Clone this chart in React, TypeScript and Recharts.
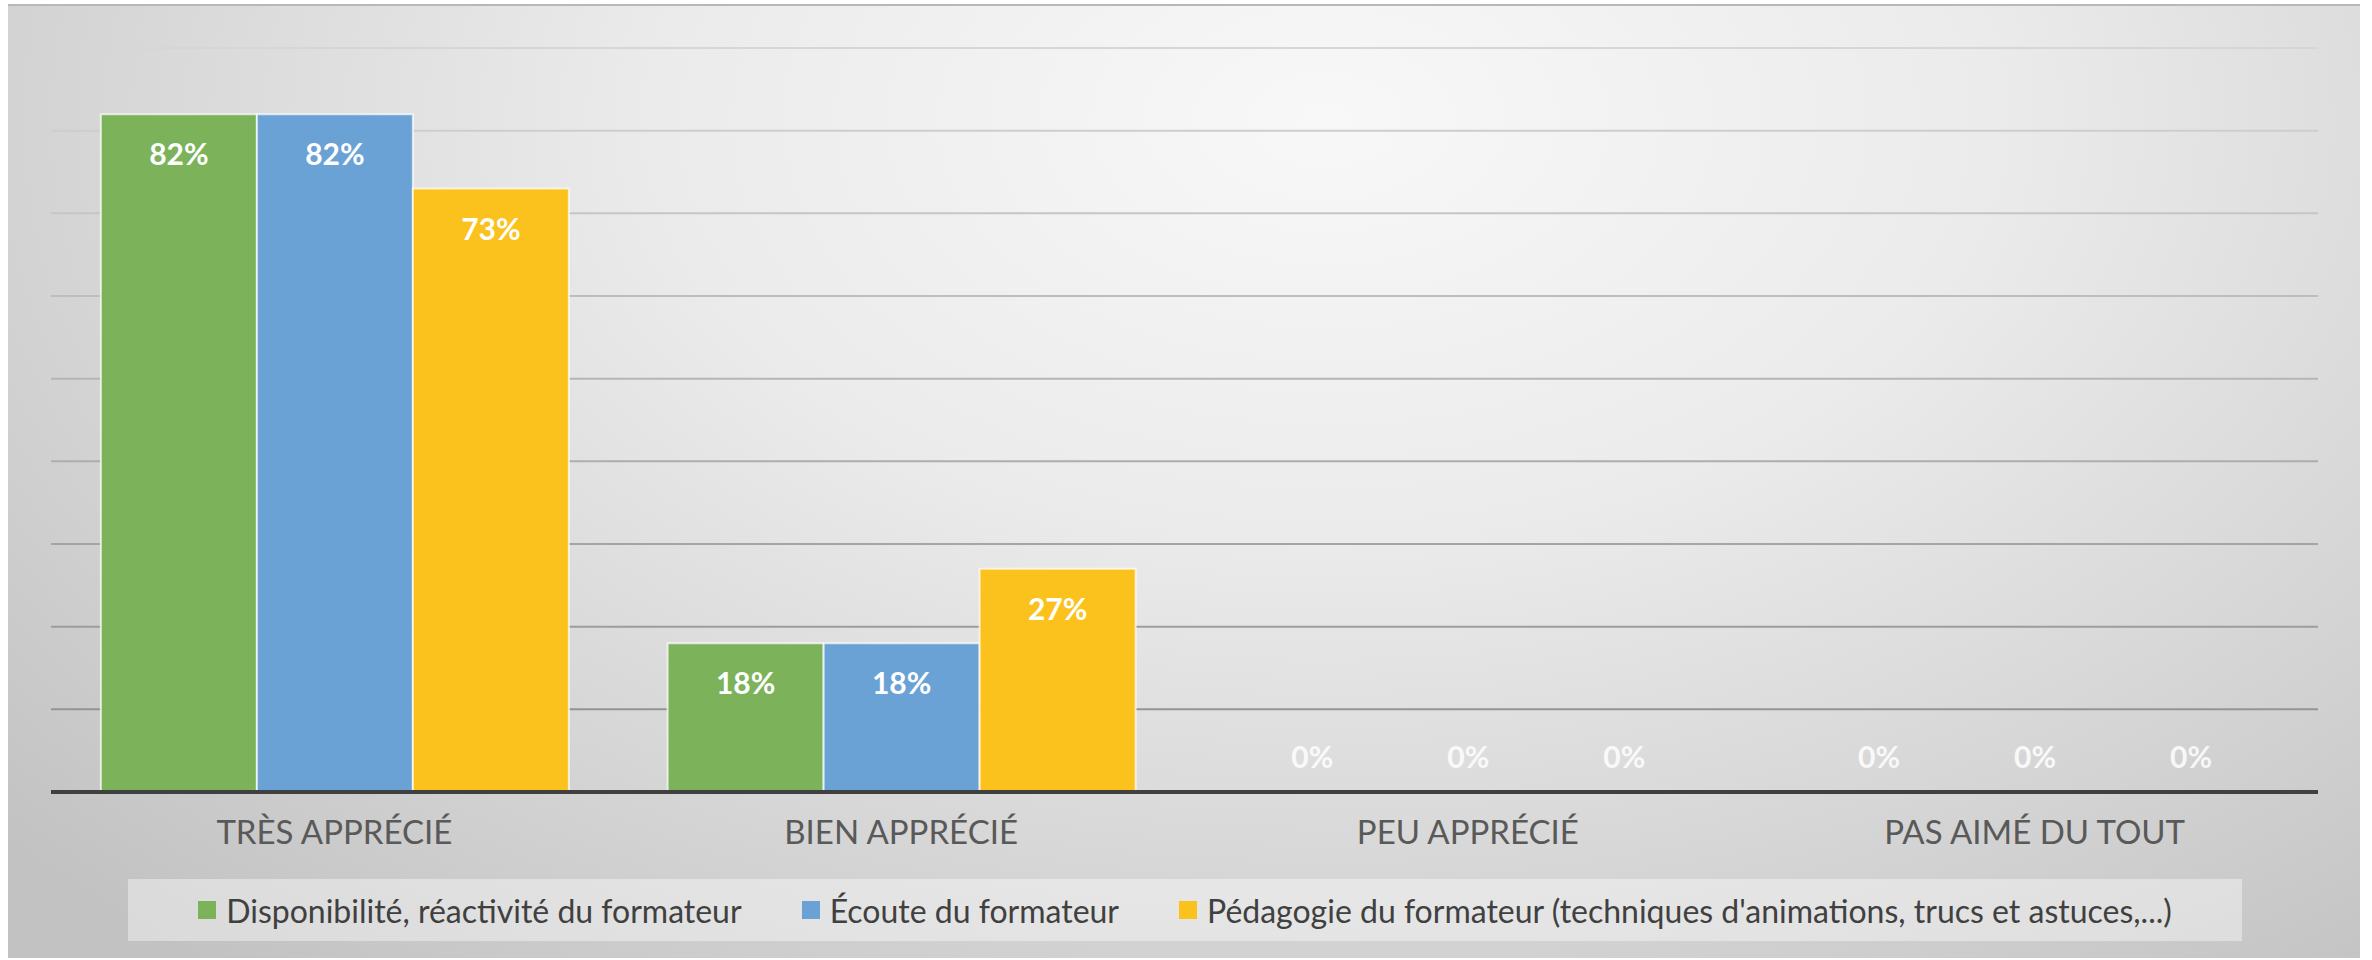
import { BarChart, Bar, XAxis, YAxis, CartesianGrid, Legend, LabelList } from "recharts";

const categories = ["TRÈS APPRÉCIÉ", "BIEN APPRÉCIÉ", "PEU APPRÉCIÉ", "PAS AIMÉ DU TOUT"];
const disponibilite = [82, 18, 0, 0];
const ecoute = [82, 18, 0, 0];
const pedagogie = [73, 27, 0, 0];
const yTicks = [0, 10, 20, 30, 40, 50, 60, 70, 80, 90];

const SERIES = [
  { key: "disponibilite", name: "Disponibilité, réactivité du formateur", color: "#7CB25A" },
  { key: "ecoute", name: "Écoute du formateur", color: "#6BA2D6" },
  { key: "pedagogie", name: "Pédagogie du formateur (techniques d'animations, trucs et astuces,...)", color: "#FBC21E" },
];

const data = categories.map((cat, i) => ({
  cat,
  disponibilite: disponibilite[i],
  ecoute: ecoute[i],
  pedagogie: pedagogie[i],
}));

const FONT = "Lato, 'Open Sans', sans-serif";

// white percentage inside the bar top; zero bars get it just above the axis
const renderLabel = (props: any) => {
  const { x, y, width, height, value } = props;
  const cx = Number(x) + Number(width) / 2;
  const zero = Number(value) === 0;
  const bottom = Number(y) + Number(height);
  const baseline = zero ? bottom - 24 : Number(y) + 51;
  return (
    <text
      x={cx}
      y={baseline}
      textAnchor="middle"
      fill="#ffffff"
      fillOpacity={zero ? 0.85 : 1}
      fontWeight={700}
      fontSize={30}
      fontFamily={FONT}
    >
      {value}%
    </text>
  );
};

const renderTick = (props: any) => {
  const { x, y, payload } = props;
  return (
    <text x={x} y={Number(y) + 52} textAnchor="middle" fill="#595959" fontSize={33} fontFamily={FONT}>
      {payload.value}
    </text>
  );
};

const renderLegend = () => (
  <div
    style={{
      height: 62,
      display: "flex",
      alignItems: "center",
      justifyContent: "center",
      gap: 60,
      background: "rgba(255,255,255,0.4)",
      fontFamily: FONT,
      fontSize: 32,
      color: "#404040",
    }}
  >
    {SERIES.map((s) => (
      <div key={s.key} style={{ display: "flex", alignItems: "center" }}>
        <div style={{ width: 18, height: 18, background: s.color, marginRight: 10 }} />
        <span>{s.name}</span>
      </div>
    ))}
  </div>
);

export default function App() {
  return (
    <div style={{ position: "absolute", left: 0, top: 0, width: 2372, height: 960, background: "#ffffff" }}>
      {/* gradient chart frame */}
      <div
        style={{
          position: "absolute",
          left: 8,
          top: 4,
          width: 2352,
          height: 954,
          borderTop: "2px solid #b8b8b8",
          boxSizing: "border-box",
          background:
            "radial-gradient(ellipse 75% 115% at 56% 12%, #f8f8f8 0%, #ebebeb 38%, #d6d6d6 70%, #c2c2c2 100%)",
        }}
      />
      <div style={{ position: "absolute", left: 0, top: 0 }}>
        <BarChart
          width={2372}
          height={960}
          data={data}
          margin={{ top: 48, right: 54, bottom: 108, left: 51 }}
          barCategoryGap="8.8%"
          barGap={0}
        >
          <defs>
            <linearGradient id="gridGrad" x1="0" y1="48" x2="0" y2="792" gradientUnits="userSpaceOnUse">
              <stop offset="0%" stopColor="#d6d6d6" />
              <stop offset="100%" stopColor="#8c8c8c" />
            </linearGradient>
          </defs>
          <CartesianGrid vertical={false} stroke="url(#gridGrad)" strokeWidth={2} />
          <YAxis hide domain={[0, 90]} ticks={yTicks} width={0} />
          <XAxis
            dataKey="cat"
            height={60}
            tickSize={0}
            tickMargin={0}
            tickLine={false}
            axisLine={{ stroke: "#404040", strokeWidth: 4 }}
            tick={renderTick}
            interval={0}
          />
          <Legend
            verticalAlign="middle"
            align="center"
            layout="horizontal"
            wrapperStyle={{ top: 879, left: 128, width: 2114, height: 62 }}
            content={renderLegend}
          />
          {SERIES.map((s) => (
            <Bar
              key={s.key}
              dataKey={s.key}
              name={s.name}
              fill={s.color}
              stroke="#ffffff"
              strokeOpacity={0.7}
              strokeWidth={2}
              minPointSize={0.01}
              isAnimationActive={false}
            >
              <LabelList dataKey={s.key} content={renderLabel} />
            </Bar>
          ))}
        </BarChart>
      </div>
    </div>
  );
}
